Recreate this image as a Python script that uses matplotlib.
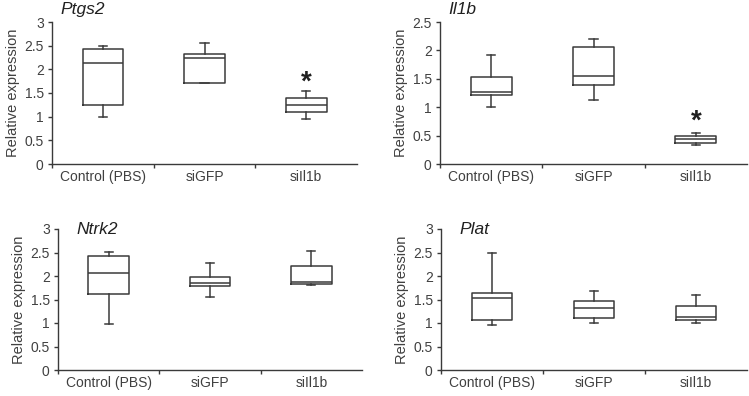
import matplotlib
matplotlib.use("Agg")
import matplotlib.pyplot as plt

plt.rcParams['font.family'] = ['Liberation Sans', 'DejaVu Sans']

groups = ["Control (PBS)", "siGFP", "siIl1b"]
group_labels = ["Control (PBS)", "siGFP", "siIl1b"]

# per gene: [whislo, q1, med, q3, whishi] for each group
ptgs2 = [[1.00, 1.25, 2.13, 2.42, 2.50],
         [1.71, 1.72, 2.25, 2.33, 2.56],
         [0.95, 1.10, 1.24, 1.40, 1.54]]
il1b = [[1.00, 1.21, 1.27, 1.53, 1.92],
        [1.13, 1.39, 1.55, 2.06, 2.20],
        [0.33, 0.37, 0.44, 0.50, 0.55]]
ntrk2 = [[0.97, 1.61, 2.07, 2.42, 2.52],
         [1.55, 1.79, 1.86, 1.98, 2.28],
         [1.81, 1.83, 1.87, 2.21, 2.54]]
plat = [[0.95, 1.07, 1.54, 1.63, 2.48],
        [1.00, 1.10, 1.32, 1.47, 1.69],
        [1.00, 1.07, 1.12, 1.36, 1.59]]

# significance markers: (group index, y value)
ptgs2_star = (2, 1.72)
il1b_star = (2, 0.74)

W, H = 749, 396
fig = plt.figure(figsize=(W / 100, H / 100), dpi=100)

line_c = "#3a3a3a"
text_c = "#404040"
fs = 10


def make_ax(px_left, px_right, px_top, px_bottom):
    return fig.add_axes([px_left / W, 1 - px_bottom / H,
                         (px_right - px_left) / W, (px_bottom - px_top) / H])


def panel(ax, data, ymax, title, title_inside, star=None):
    stats = []
    for g, d in zip(groups, data):
        stats.append(dict(label=g, whislo=d[0], q1=d[1], med=d[2], q3=d[3],
                          whishi=d[4], fliers=[]))
    lp = dict(color=line_c, linewidth=1.1)
    ax.bxp(stats, positions=[1, 2, 3], widths=0.4, showfliers=False,
           boxprops=lp, whiskerprops=lp, capprops=lp, medianprops=lp,
           capwidths=0.08)
    ax.set_xlim(0.5, 3.5)
    ax.set_ylim(0, ymax)
    ticks = [i * 0.5 for i in range(int(ymax * 2) + 1)]
    ax.set_yticks(ticks)
    ax.set_yticklabels(["%g" % t for t in ticks])
    ax.set_xticks([0.5, 1.5, 2.5])
    ax.set_xticklabels([])
    for i, lab in enumerate(group_labels):
        ax.text(i + 1, -0.045, lab, transform=ax.get_xaxis_transform(),
                ha="center", va="top", fontsize=fs, color=text_c)
    for s in ["top", "right"]:
        ax.spines[s].set_visible(False)
    for s in ["left", "bottom"]:
        ax.spines[s].set_color(line_c)
        ax.spines[s].set_linewidth(1.0)
    ax.tick_params(axis="both", direction="out", length=3, width=1.0,
                   color=line_c, labelcolor=text_c, labelsize=fs, pad=3)
    ax.set_ylabel("Relative expression", fontsize=fs + 0.5, color=text_c,
                  labelpad=3)
    if title_inside:
        ax.text(0.06, 1.0, title, transform=ax.transAxes, ha="left",
                va="center", fontsize=12.5, style="italic", color="#202020")
    else:
        ax.text(0.027, 1.035, title, transform=ax.transAxes, ha="left",
                va="bottom", fontsize=12.5, style="italic", color="#202020")
    if star is not None:
        ax.text(star[0] + 1, star[1], "*", ha="center", va="center",
                fontsize=20, fontweight="bold", color="#202020")


ax1 = make_ax(52, 357, 22, 164)
panel(ax1, ptgs2, 3, "Ptgs2", False, ptgs2_star)
ax2 = make_ax(440, 747, 22, 164)
panel(ax2, il1b, 2.5, "Il1b", False, il1b_star)
ax3 = make_ax(58, 362, 229, 370)
panel(ax3, ntrk2, 3, "Ntrk2", True)
ax4 = make_ax(441, 747, 229, 370)
panel(ax4, plat, 3, "Plat", True)

fig.savefig("out.png", dpi=100, facecolor="white")
